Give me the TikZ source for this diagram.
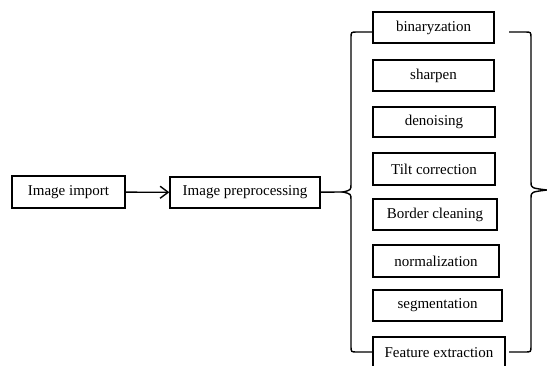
\documentclass[tikz,border=0pt]{standalone}
\usepackage{fontspec}
\setmainfont{Liberation Serif}
\usepackage{tikz}
\usetikzlibrary{positioning, arrows, arrows.meta}

\tikzset{
    box/.style={draw, line width=1.4pt, inner sep=0pt, font=\fontsize{15}{16}\selectfont},
    link/.style={line width=1.4pt}
}

\begin{document}
\begin{tikzpicture}[x=1pt, y=-1pt]
    \useasboundingbox (0,0) rectangle (547,365);

    % Define nodes
    \node[box, minimum width=113pt, minimum height=32pt] (import) at (68.5,192) {Image import\hspace{10pt}};
    \node[box, minimum width=150pt, minimum height=31pt] (prep) at (245,192.5) {Image preprocessing\hspace{6pt}};

    \node[box, minimum width=121pt, minimum height=31pt] (bin) at (433.5,27.5) {binaryzation};
    \node[box, minimum width=121pt, minimum height=31pt] (sharp) at (433.5,75.5) {sharpen};
    \node[box, minimum width=122pt, minimum height=30pt] (denoise) at (434,122) {denoising};
    \node[box, minimum width=122pt, minimum height=32pt] (tilt) at (434,169) {Tilt correction};
    \node[box, minimum width=124pt, minimum height=31pt] (border) at (435,214.5) {Border cleaning};
    \node[box, minimum width=126pt, minimum height=32pt] (norm) at (436,261) {normalization};
    \node[box, minimum width=129pt, minimum height=31pt] (seg) at (437.5,305.5) {segmentation};
    \node[box, minimum width=132pt, minimum height=31pt] (feat) at (439,352.5) {Feature extraction};

    \coordinate (tipL) at (343,192);
    \coordinate (tipR) at (547,190);

    % Draw arrows
    \draw[link, -{Straight Barb[length=8pt, width=12pt]}] (import) -- (prep);
    \draw[link] (prep) -- (tipL);

    % Braces
    \draw[link] (bin.west |- 0,32) -- (357,32) .. controls (351,32) .. (351,38) -- (351,184)
        .. controls (351,190) .. (tipL) .. controls (351,194) .. (351,200) -- (351,346)
        .. controls (351,352) .. (357,352) -- (feat.west |- 0,352);
    \draw[link] (509,32) -- (525,32) .. controls (531,32) .. (531,38) -- (531,182)
        .. controls (531,188) .. (tipR) .. controls (531,192) .. (531,198) -- (531,346)
        .. controls (531,352) .. (525,352) -- (509,352);
\end{tikzpicture}
\end{document}
